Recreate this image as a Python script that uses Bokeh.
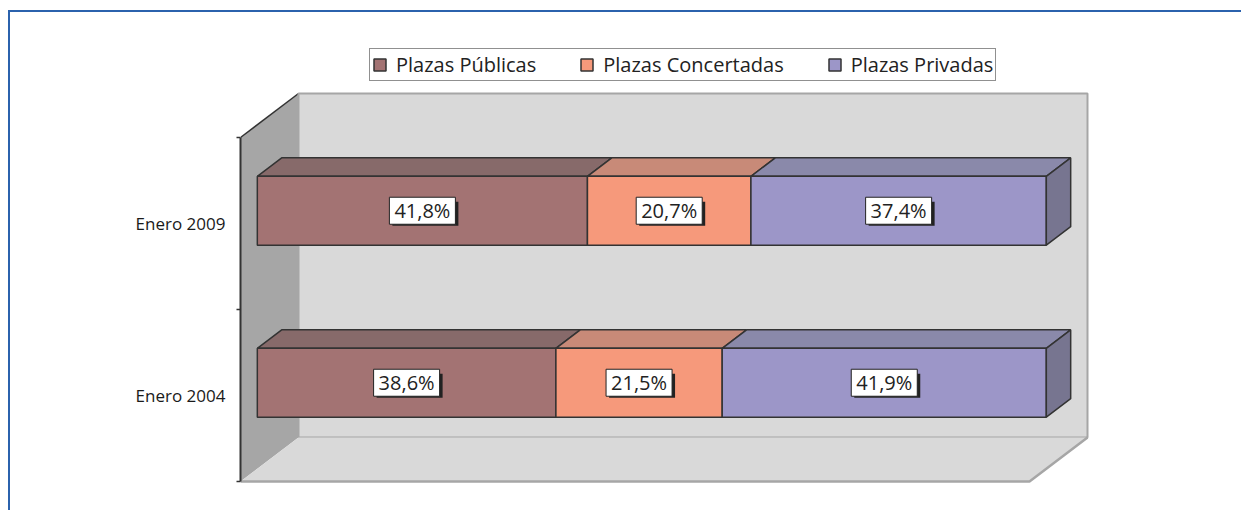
from bokeh.plotting import figure
from bokeh.models import FixedTicker, Legend, LegendItem, ColumnDataSource
from bokeh.embed import file_html
from bokeh.resources import INLINE
from bokeh.core.properties import value

# ---------------- data ----------------
categories = ["Enero 2004", "Enero 2009"]
series = ["Plazas Públicas", "Plazas Concertadas", "Plazas Privadas"]
publicas = [38.6, 41.8]
concertadas = [21.5, 20.7]
privadas = [41.9, 37.4]

# ---------------- style ----------------
FONT = "Open Sans"
front_colors = ["#a37373", "#f6997b", "#9c96c8"]
top_colors = ["#876a6a", "#c88a78", "#8a89aa"]
side_color = "#777590"
edge = "#333333"
W, H = 1233, 500
TOP_PX = 12                       # page y of the figure's content top
LEFT = 230
PX_X, PX_Y = 789.0, 172.0        # pixels per share unit / per category
BASE_Y_PX = 31                    # pixels from frame bottom to category 0
DX, DY = 58 / PX_X, 44 / PX_Y     # full 3-D depth in data units
F0, F1 = 0.29, 0.71               # bar depth span
HALF = 0.2                        # half bar thickness
LEGEND_BOTTOM_PAGE = 81

x_end = (W - LEFT) / PX_X
y_start = -BASE_Y_PX / PX_Y
y_end = y_start + H / PX_Y

p = figure(width=W, height=H, x_range=(0, x_end), y_range=(y_start, y_end),
           output_backend="svg", toolbar_location=None, x_axis_location=None,
           min_border_left=LEFT, min_border_right=0, min_border_top=0, min_border_bottom=0,
           background_fill_color="white", border_fill_color="white",
           outline_line_color=None,
           styles={"border-left": "2px solid #2b62ad", "border-top": "2px solid #2b62ad",
                   "margin-top": "10px", "margin-left": "8px"})
p.grid.visible = False

n = len(categories)
# ---------------- walls & floor ----------------
p.patch([0, 0, DX, DX], [0, n, n + DY, DY], fill_color="#a6a6a6", line_color=None)
p.line([0, DX], [n, n + DY], line_color=edge, line_width=1.5)
p.quad(left=DX, right=1 + DX, bottom=DY, top=n + DY, fill_color="#d9d9d9",
       line_color="#a6a6a6", line_width=2)
p.patch([0, 1, 1 + DX, DX], [0, 0, DY, DY], fill_color="#d9d9d9", line_color=None)
p.line([0, 1, 1 + DX], [0, 0, DY], line_color="#a6a6a6", line_width=2.5)

# ---------------- bars ----------------
rows = list(zip(publicas, concertadas, privadas))
ox, oy = F0 * DX, F0 * DY
ddx, ddy = (F1 - F0) * DX, (F1 - F0) * DY

front_srcs = [dict(left=[], right=[], bottom=[], top=[]) for _ in series]
top_xs = [[] for _ in series]
top_ys = [[] for _ in series]
side_xs, side_ys = [], []
lab_x, lab_y, lab_t = [], [], []
for i, row in enumerate(rows):
    total = sum(row)
    c = i + 0.5
    y0, y1 = c - HALF + oy, c + HALF + oy
    s0 = 0.0
    for k, v in enumerate(row):
        s1 = s0 + v / total
        front_srcs[k]["left"].append(ox + s0)
        front_srcs[k]["right"].append(ox + s1)
        front_srcs[k]["bottom"].append(y0)
        front_srcs[k]["top"].append(y1)
        top_xs[k].append([ox + s0, ox + s1, ox + s1 + ddx, ox + s0 + ddx])
        top_ys[k].append([y1, y1, y1 + ddy, y1 + ddy])
        lab_x.append(ox + (s0 + s1) / 2)
        lab_y.append((y0 + y1) / 2)
        lab_t.append(f"{v:.1f}".replace(".", ",") + "%")
        s0 = s1
    side_xs.append([ox + 1, ox + 1, ox + 1 + ddx, ox + 1 + ddx])
    side_ys.append([y0, y1, y1 + ddy, y0 + ddy])

front_renderers = []
for k in range(len(series)):
    p.patches(top_xs[k], top_ys[k], fill_color=top_colors[k], line_color=edge, line_width=1.5)
    r = p.quad(source=ColumnDataSource(front_srcs[k]), left="left", right="right",
               bottom="bottom", top="top", fill_color=front_colors[k],
               line_color=edge, line_width=1.5)
    front_renderers.append(r)
p.patches(side_xs, side_ys, fill_color=side_color, line_color=edge, line_width=1.5)

# ---------------- data labels ----------------
lsrc = ColumnDataSource(dict(x=lab_x, y=lab_y, t=lab_t,
                             sx=[x + 3 / PX_X for x in lab_x],
                             sy=[y - 3 / PX_Y for y in lab_y]))
p.rect(x="sx", y="sy", width=66, height=24, width_units="screen", height_units="screen",
       source=lsrc, fill_color="#222222", line_color=None)
p.text(x="x", y="y", text="t", source=lsrc, text_align="center", text_baseline="middle",
       text_font=value(FONT), text_font_size="20px", text_color="#222222",
       background_fill_color="white", border_line_color="#222222", border_line_width=1,
       padding=(5, 0))

# ---------------- y axis ----------------
ax = p.yaxis[0]
ax.ticker = FixedTicker(ticks=[i + 0.5 for i in range(n)], minor_ticks=list(range(n + 1)))
ax.major_label_overrides = {i + 0.5: c for i, c in enumerate(categories)}
ax.bounds = (0, n)
ax.axis_line_color = edge
ax.axis_line_width = 2
ax.major_tick_in = 0
ax.major_tick_out = 0
ax.minor_tick_in = 0
ax.minor_tick_out = 4
ax.minor_tick_line_color = edge
ax.minor_tick_line_width = 1.5
ax.major_label_standoff = 11
ax.major_label_text_font = FONT
ax.major_label_text_font_size = "17px"
ax.major_label_text_color = "#1a1a1a"

# ---------------- legend ----------------
legend = Legend(items=[LegendItem(label=s, renderers=[front_renderers[k]]) for k, s in enumerate(series)],
                orientation="horizontal", location=(129, TOP_PX + H - LEGEND_BOTTOM_PAGE),
                border_line_color="#222222", border_line_width=1,
                background_fill_color="white", background_fill_alpha=1,
                label_text_font=FONT, label_text_font_size="20px", label_text_color="#222222",
                glyph_width=15, glyph_height=15, label_standoff=9, spacing=43,
                padding=2, margin=0, label_height=20)
p.add_layout(legend)

open("out.html", "w").write(file_html(p, INLINE))
